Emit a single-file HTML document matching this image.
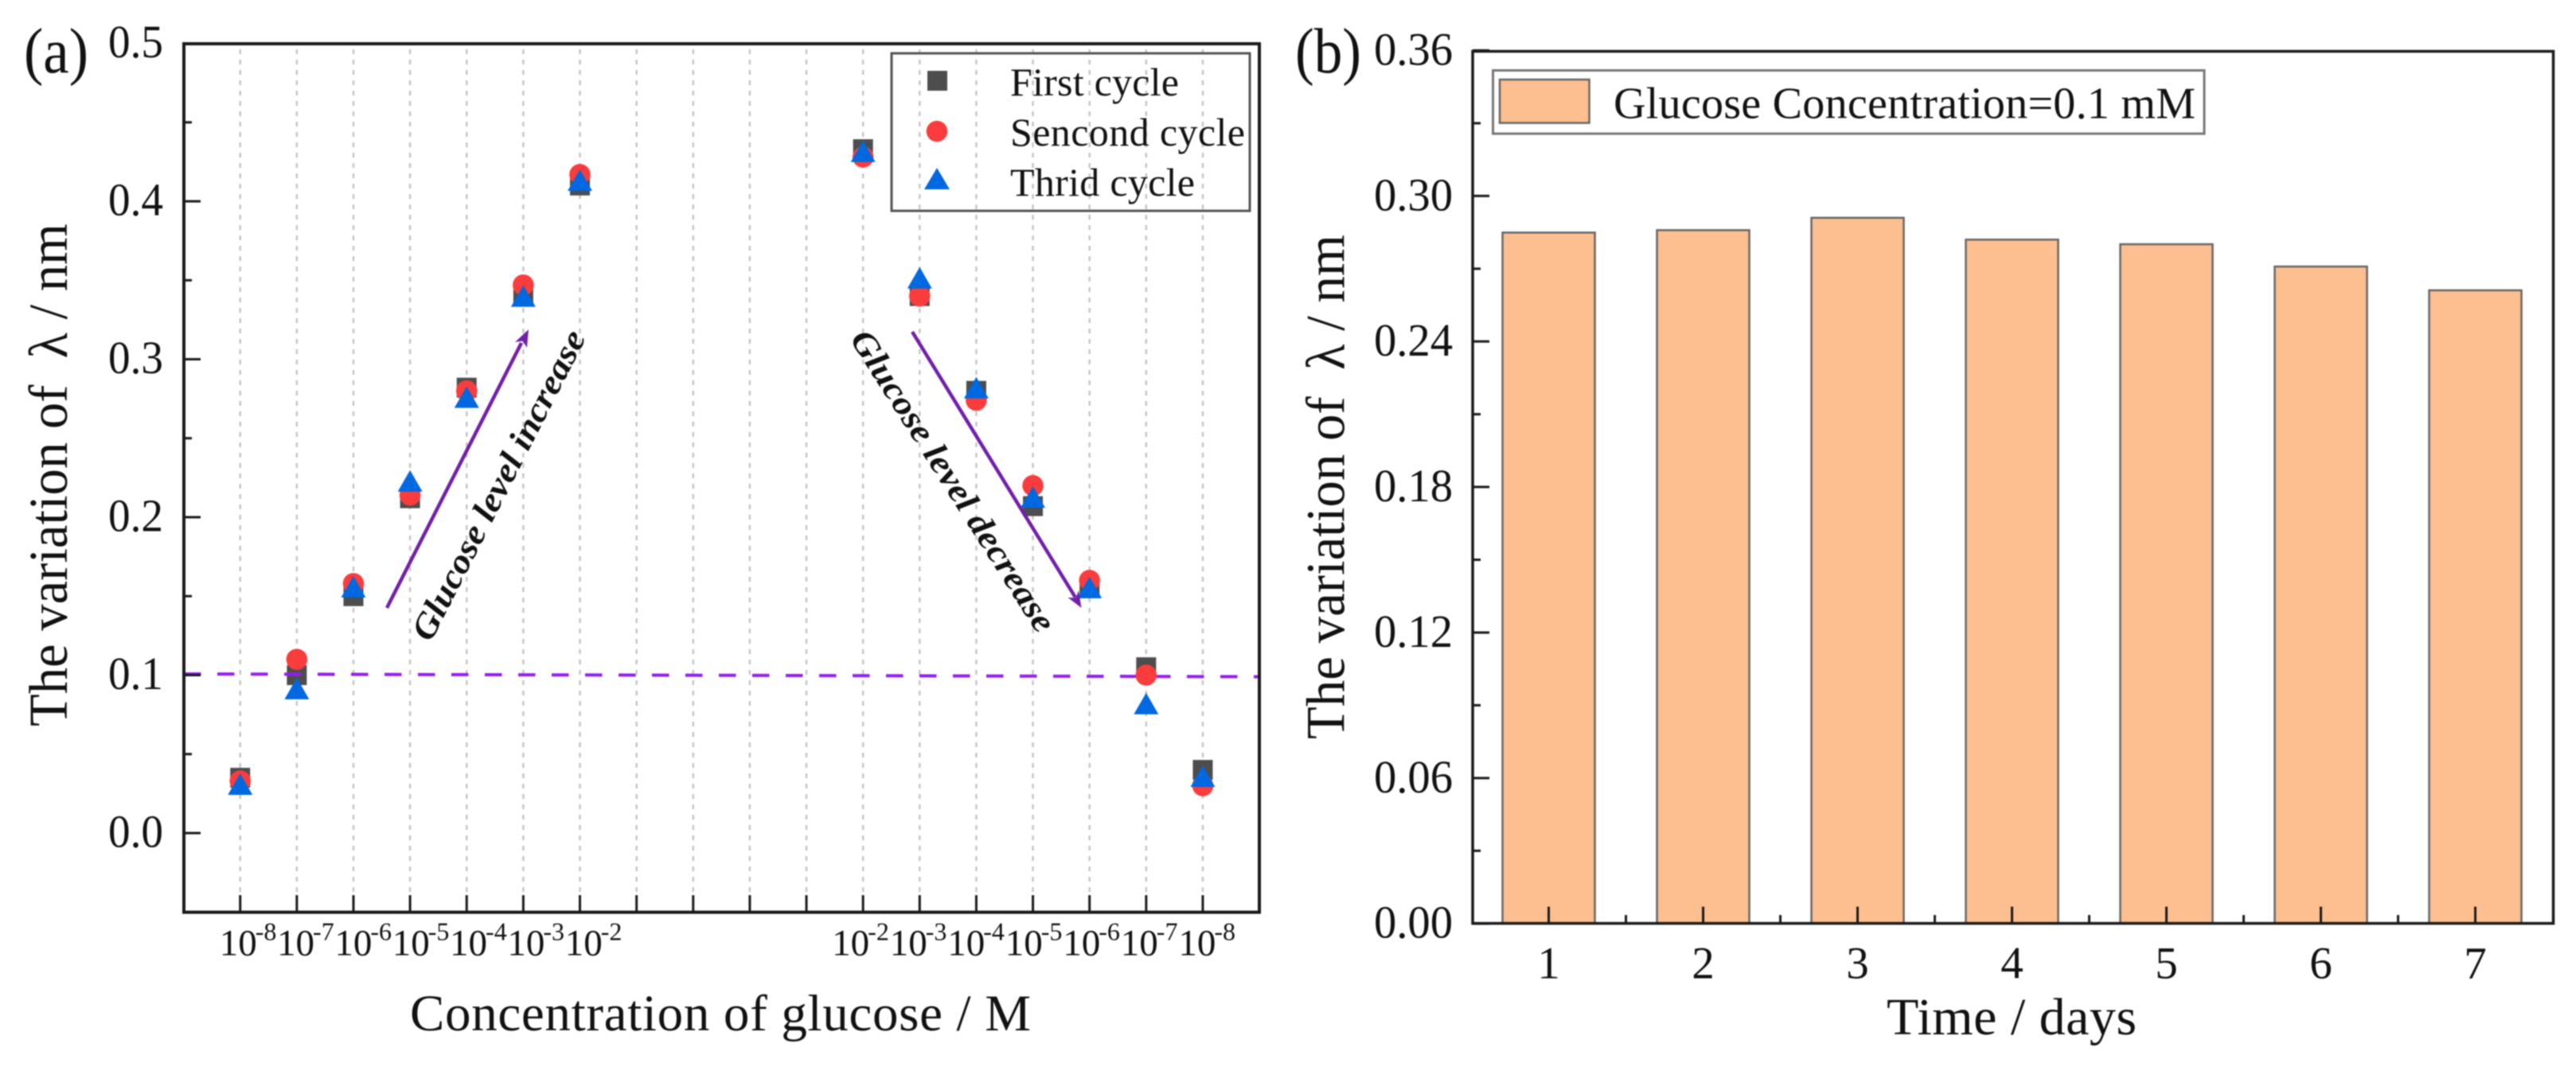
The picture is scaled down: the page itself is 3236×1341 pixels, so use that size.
<!DOCTYPE html>
<html lang="en">
<head>
<meta charset="utf-8">
<title>Glucose response and stability charts</title>
<style>
html,body{margin:0;padding:0;background:#fff;}
#figure{display:block;width:3236px;height:1341px;filter:blur(0.7px);}
text{font-family:"Liberation Serif","DejaVu Serif",serif;fill:#111;}
</style>
</head>
<body>
<svg id="figure" xmlns="http://www.w3.org/2000/svg" width="3236" height="1341" viewBox="0 0 3236 1341">
  <rect x="0" y="0" width="3236" height="1341" fill="#ffffff"/>

  <g id="panel-a">
    <g id="a-grid"></g>
    <g id="a-squares"></g>
    <line x1="231" y1="847" x2="1582" y2="850.5" stroke="#931ff0" stroke-width="4" stroke-dasharray="21.5 20.5"/>
    <g id="a-circles"></g>
    <g id="a-triangles"></g>

    <g>
      <line x1="486" y1="764" x2="655" y2="431" stroke="#7020a8" stroke-width="4.5"/>
      <polygon points="664,414 662,437 656.5,428.5 647,430" fill="#7020a8"/>
    </g>
    <g>
      <line x1="1146" y1="417" x2="1351" y2="751" stroke="#7020a8" stroke-width="4.5"/>
      <polygon points="1358.5,764 1341.5,751 1351.5,751.5 1355,742" fill="#7020a8"/>
    </g>
    <text transform="translate(541 808) rotate(-63)" font-size="43" font-weight="bold" font-style="italic" textLength="431" lengthAdjust="spacingAndGlyphs">Glucose level increase</text>
    <text transform="translate(1067 426) rotate(57.5)" font-size="43" font-weight="bold" font-style="italic" textLength="441" lengthAdjust="spacingAndGlyphs">Glucose level decrease</text>

    <g id="a-axes"></g>
    <rect x="231" y="55" width="1351" height="1091.5" fill="none" stroke="#1a1a1a" stroke-width="4"/>

    <text x="30" y="91" font-size="80" textLength="81" lengthAdjust="spacingAndGlyphs">(a)</text>
    <text transform="translate(84 913) rotate(-90)" font-size="69" textLength="632" lengthAdjust="spacingAndGlyphs" xml:space="preserve">The variation of  λ / nm</text>
    <text x="515" y="1295" font-size="65" textLength="780" lengthAdjust="spacing">Concentration of glucose / M</text>

    <g>
      <rect x="1120" y="67" width="450" height="198" fill="none" stroke="#555555" stroke-width="3"/>
      <rect x="1165" y="89" width="25" height="25" fill="#4d4d4d"/>
      <circle cx="1177" cy="165" r="13.3" fill="#fa3c3c"/>
      <polygon points="1177,211 1193,238 1161,238" fill="#0068e0"/>
      <text x="1269" y="120" font-size="50" textLength="212">First cycle</text>
      <text x="1269" y="183" font-size="50" textLength="295">Sencond cycle</text>
      <text x="1269" y="246" font-size="50" textLength="232">Thrid cycle</text>
    </g>
  </g>

  <g id="panel-b">
    <g id="b-bars"></g>
    <g id="b-axes"></g>
    <rect x="1850" y="64.5" width="1357.5" height="1096" fill="none" stroke="#1a1a1a" stroke-width="3.5"/>

    <text x="1627" y="91" font-size="80" textLength="83" lengthAdjust="spacingAndGlyphs">(b)</text>
    <text transform="translate(1688.5 929) rotate(-90)" font-size="69" textLength="634" lengthAdjust="spacingAndGlyphs" xml:space="preserve">The variation of  λ / nm</text>
    <text x="2370" y="1300" font-size="66" textLength="314" lengthAdjust="spacing">Time / days</text>

    <g>
      <rect x="1875.5" y="88.5" width="893.5" height="79.5" fill="none" stroke="#777777" stroke-width="3"/>
      <rect x="1884" y="100" width="112.5" height="54.5" fill="#fdbf8f" stroke="#666666" stroke-width="2.5"/>
      <text x="2027" y="148.5" font-size="56" textLength="731" lengthAdjust="spacing">Glucose Concentration=0.1 mM</text>
    </g>
  </g>
</svg>

<script>
// Panel (a) data: x position index along the axis, one value per measured concentration
var positionsA = [1, 2, 3, 4, 5, 6, 7, 12, 13, 14, 15, 16, 17, 18];
var exponentLabelsA = ['-8', '-7', '-6', '-5', '-4', '-3', '-2', '-2', '-3', '-4', '-5', '-6', '-7', '-8'];
var firstCycle = [0.035, 0.100, 0.150, 0.212, 0.282, 0.340, 0.410, 0.433, 0.340, 0.280, 0.207, 0.155, 0.105, 0.040];
var secondCycle = [0.033, 0.110, 0.158, 0.214, 0.280, 0.347, 0.417, 0.428, 0.340, 0.274, 0.220, 0.160, 0.100, 0.030];
var thirdCycle = [0.031, 0.0915, 0.156, 0.223, 0.276, 0.340, 0.4134, 0.4317, 0.3516, 0.282, 0.2128, 0.1555, 0.082, 0.036];
var yMajorTicksA = [0.0, 0.1, 0.2, 0.3, 0.4, 0.5];
var yMinorTicksA = [0.05, 0.15, 0.25, 0.35, 0.45];
var xTickCountA = 18;

// Panel (b) data
var days = [1, 2, 3, 4, 5, 6, 7];
var variationB = [0.2849, 0.2859, 0.2910, 0.2820, 0.2801, 0.2709, 0.2611];
var yMajorTicksB = ['0.00', '0.06', '0.12', '0.18', '0.24', '0.30', '0.36'];
var yMinorTicksB = [0.03, 0.09, 0.15, 0.21, 0.27, 0.33];
var xMinorTicksB = [1.5, 2.5, 3.5, 4.5, 5.5, 6.5];

var NS = 'http://www.w3.org/2000/svg';
function make(parent, tag, attrs) {
  var el = document.createElementNS(NS, tag);
  for (var k in attrs) { el.setAttribute(k, attrs[k]); }
  parent.appendChild(el);
  return el;
}

// Axis functions
function xA(i) { return 230.6 + 71.13 * i; }
function yA(v) { return 1047 - 1985 * v; }
function xB(d) { return 1945.5 + 194 * (d - 1); }
function yB(v) { return 1160.7 - 3048 * v; }

var aGrid = document.getElementById('a-grid');
var aAxes = document.getElementById('a-axes');
var aSquares = document.getElementById('a-squares');
var aCircles = document.getElementById('a-circles');
var aTriangles = document.getElementById('a-triangles');
var bBars = document.getElementById('b-bars');
var bAxes = document.getElementById('b-axes');

// Panel (a) gridlines and x ticks
for (var i = 1; i <= xTickCountA; i++) {
  var grid = make(aGrid, 'line', {x1: xA(i), x2: xA(i), y1: 62, y2: 1146, stroke: '#c6c6c6', 'stroke-width': 2.5, 'stroke-dasharray': '6 7'});
  
  
  var xt = make(aAxes, 'line', {x1: xA(i), x2: xA(i), y1: 1146, y2: 1125, stroke: '#1a1a1a', 'stroke-width': 3});
  
  
}

// Panel (a) y ticks
yMajorTicksA.forEach(function (v) {
  var t = make(aAxes, 'line', {x1: 231, x2: 252, y1: yA(v), y2: yA(v), stroke: '#1a1a1a', 'stroke-width': 3});
  
  
  var lab = make(aAxes, 'text', {x: 136, y: yA(v) + 17.5, 'font-size': 58, textLength: 69, lengthAdjust: 'spacingAndGlyphs'});
  
  
  lab.textContent = v.toFixed(1);
});
yMinorTicksA.forEach(function (v) {
  var t = make(aAxes, 'line', {x1: 231, x2: 241, y1: yA(v), y2: yA(v), stroke: '#1a1a1a', 'stroke-width': 3});
  
  
});

// Panel (a) x tick labels and markers
positionsA.forEach(function (p, k) {
  var offset = p <= 7 ? -21 + (p - 1) * 1.2 : -34 + (p - 12) * 1.4;
  var lab = make(aAxes, 'text', {x: xA(p) + offset - 5, y: 1200.5, 'font-size': 47});
  
  
  lab.textContent = '10';
  var sup = make(aAxes, 'text', {x: xA(p) + offset + 40, y: 1181.5, 'font-size': 32});
  
  
  sup.textContent = exponentLabelsA[k];

  var sq = make(aSquares, 'rect', {x: xA(p) - 12.5, y: yA(firstCycle[k]) - 12.5, width: 25, height: 25, fill: '#4d4d4d'});
  
  

  var ci = make(aCircles, 'circle', {cx: xA(p), cy: yA(secondCycle[k]), r: 13.3, fill: '#fa3c3c'});
  
  

  var cy = yA(thirdCycle[k]);
  var cx = xA(p);
  var tr = make(aTriangles, 'polygon', {points: cx + ',' + (cy - 13.5) + ' ' + (cx + 15.5) + ',' + (cy + 13.5) + ' ' + (cx - 15.5) + ',' + (cy + 13.5), fill: '#0068e0'});
  
  
});

// Panel (b) bars
days.forEach(function (d, k) {
  var top = yB(variationB[k]);
  var bar = make(bBars, 'rect', {x: xB(d) - 58, y: top, width: 116, height: yB(0) - top, fill: '#fdbf8f', stroke: '#666666', 'stroke-width': 2.5});
  
  

  var t = make(bAxes, 'line', {x1: xB(d), x2: xB(d), y1: 1160.5, y2: 1139.5, stroke: '#1a1a1a', 'stroke-width': 3});
  
  

  var lab = make(bAxes, 'text', {x: xB(d), y: 1229.5, 'font-size': 57, 'text-anchor': 'middle'});
  
  
  lab.textContent = String(d);
});
xMinorTicksB.forEach(function (d) {
  var t = make(bAxes, 'line', {x1: xB(d), x2: xB(d), y1: 1160.5, y2: 1150, stroke: '#1a1a1a', 'stroke-width': 3});
  
  
});

// Panel (b) y ticks
yMajorTicksB.forEach(function (label) {
  var v = parseFloat(label);
  var t = make(bAxes, 'line', {x1: 1850, x2: 1871, y1: yB(v), y2: yB(v), stroke: '#1a1a1a', 'stroke-width': 3});
  
  
  var lab = make(bAxes, 'text', {x: 1726, y: yB(v) + 18, 'font-size': 58, textLength: 99, lengthAdjust: 'spacingAndGlyphs'});
  
  
  lab.textContent = label;
});
yMinorTicksB.forEach(function (v) {
  var t = make(bAxes, 'line', {x1: 1850, x2: 1860, y1: yB(v), y2: yB(v), stroke: '#1a1a1a', 'stroke-width': 3});
  
  
});
</script>
</body>
</html>
